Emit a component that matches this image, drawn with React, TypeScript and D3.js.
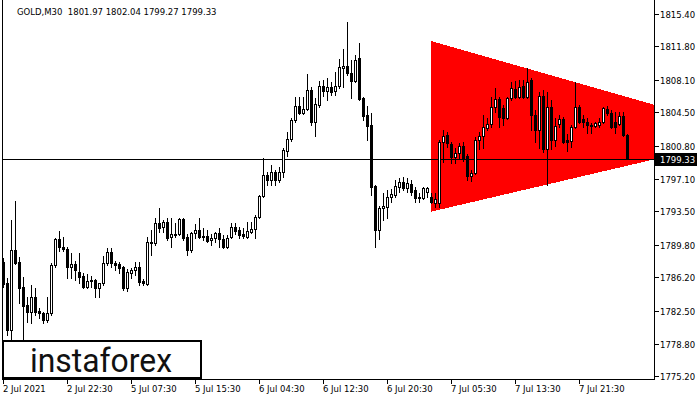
import React from 'react';
import * as d3 from 'd3';

const headerText = "GOLD,M30  1801.97 1802.04 1799.27 1799.33";
const logoText = "instaforex";

const open = [
  1787.90, 1785.57, 1780.36, 1789.23, 1787.90, 1785.12, 1783.13, 1782.35, 1784.02, 1782.46,
  1782.24, 1781.47, 1782.24, 1787.56, 1790.45, 1789.56, 1789.34, 1787.34, 1787.67, 1786.79,
  1786.34, 1785.12, 1785.79, 1785.90, 1785.01, 1785.57, 1787.78, 1789.01, 1787.78, 1787.67,
  1787.34, 1785.01, 1786.68, 1787.01, 1787.34, 1785.79, 1785.46, 1790.00, 1790.00, 1792.22,
  1791.78, 1792.33, 1790.67, 1790.89, 1791.00, 1792.66, 1790.67, 1789.23, 1791.11, 1791.45,
  1790.78, 1790.78, 1790.34, 1790.56, 1791.11, 1790.45, 1789.56, 1790.67, 1791.78, 1791.45,
  1791.00, 1790.67, 1791.22, 1791.56, 1792.89, 1795.22, 1797.55, 1796.99, 1797.88, 1796.99,
  1797.88, 1800.21, 1801.54, 1803.65, 1805.20, 1804.42, 1804.87, 1806.97, 1803.42, 1805.31,
  1807.42, 1806.86, 1807.30, 1806.86, 1807.42, 1809.41, 1809.63, 1808.86, 1807.97, 1810.52,
  1806.09, 1804.20, 1803.09, 1796.33, 1791.45, 1793.88, 1793.99, 1795.11, 1795.33, 1796.21,
  1796.77, 1796.10, 1796.55, 1795.88, 1795.11, 1795.00, 1795.66, 1795.11, 1794.44, 1794.44,
  1801.21, 1801.98, 1800.98, 1799.54, 1799.99, 1800.76, 1799.65, 1797.44, 1797.77, 1801.43,
  1801.87, 1802.76, 1803.20, 1805.09, 1805.98, 1804.98, 1803.87, 1806.09, 1807.08, 1806.20,
  1807.42, 1806.20, 1808.08, 1804.20, 1802.54, 1806.31, 1800.43, 1805.09, 1801.43, 1803.20,
  1803.76, 1801.43, 1801.32, 1802.87, 1805.09, 1803.76, 1803.42, 1803.09, 1802.98, 1803.09,
  1803.42, 1804.87, 1804.42, 1803.42, 1803.20, 1804.09, 1801.97
];
const high = [
  1788.34, 1786.12, 1792.55, 1794.66, 1788.45, 1786.23, 1784.02, 1785.35, 1785.01, 1782.80,
  1782.35, 1784.02, 1787.78, 1790.56, 1791.33, 1790.67, 1789.56, 1788.89, 1788.01, 1788.89,
  1786.68, 1786.56, 1786.34, 1786.01, 1785.57, 1788.56, 1789.45, 1789.45, 1788.01, 1787.90,
  1787.45, 1787.12, 1787.23, 1787.90, 1787.90, 1786.01, 1790.67, 1791.45, 1792.77, 1793.88,
  1792.55, 1792.77, 1792.77, 1792.22, 1792.77, 1792.77, 1791.00, 1791.22, 1792.11, 1792.77,
  1791.67, 1791.45, 1791.00, 1791.22, 1791.67, 1790.89, 1790.89, 1792.22, 1792.22, 1791.78,
  1791.67, 1792.33, 1792.33, 1793.11, 1795.33, 1799.43, 1797.88, 1798.65, 1798.10, 1798.43,
  1800.54, 1802.32, 1803.87, 1806.20, 1806.20, 1806.20, 1808.75, 1807.30, 1806.09, 1807.97,
  1808.08, 1808.30, 1807.86, 1808.97, 1810.41, 1811.52, 1814.51, 1810.30, 1810.85, 1812.18,
  1806.20, 1805.20, 1804.42, 1796.40, 1794.11, 1795.55, 1795.88, 1795.99, 1796.99, 1797.21,
  1797.32, 1797.21, 1796.99, 1796.21, 1795.55, 1796.21, 1796.21, 1795.55, 1795.55, 1801.43,
  1802.54, 1802.32, 1801.21, 1800.54, 1801.09, 1801.21, 1799.87, 1798.10, 1801.76, 1802.32,
  1804.20, 1803.87, 1806.20, 1807.19, 1806.20, 1805.31, 1806.20, 1807.86, 1807.97, 1808.08,
  1808.08, 1809.41, 1808.30, 1804.75, 1806.75, 1806.97, 1806.75, 1805.86, 1803.87, 1804.20,
  1803.98, 1802.09, 1803.09, 1807.86, 1805.31, 1804.20, 1803.87, 1803.31, 1803.42, 1803.87,
  1805.09, 1805.20, 1804.75, 1804.53, 1804.53, 1804.53, 1802.04
];
const low = [
  1785.12, 1779.80, 1779.25, 1787.67, 1783.35, 1779.25, 1781.24, 1781.13, 1782.02, 1781.69,
  1781.13, 1781.24, 1782.02, 1787.34, 1789.12, 1789.12, 1786.12, 1786.12, 1785.90, 1785.57,
  1785.01, 1785.01, 1785.12, 1784.02, 1784.02, 1785.35, 1787.56, 1787.34, 1787.01, 1786.68,
  1784.79, 1784.68, 1786.12, 1786.45, 1785.35, 1785.35, 1785.35, 1788.67, 1789.78, 1791.22,
  1791.22, 1790.34, 1789.56, 1790.67, 1790.89, 1790.34, 1788.67, 1789.01, 1790.56, 1790.56,
  1790.34, 1790.11, 1789.78, 1790.11, 1789.56, 1789.45, 1789.45, 1790.56, 1791.00, 1790.56,
  1790.56, 1790.56, 1791.11, 1790.56, 1792.77, 1795.11, 1796.44, 1796.44, 1796.44, 1796.77,
  1797.32, 1799.65, 1801.32, 1803.42, 1804.31, 1804.31, 1804.75, 1803.09, 1801.87, 1805.09,
  1806.31, 1805.86, 1806.42, 1806.42, 1807.19, 1807.30, 1808.63, 1806.09, 1807.86, 1805.86,
  1803.65, 1801.43, 1795.33, 1789.56, 1790.45, 1792.55, 1792.77, 1794.55, 1795.11, 1795.66,
  1795.88, 1795.66, 1795.33, 1794.55, 1794.55, 1794.89, 1795.11, 1794.44, 1793.99, 1793.99,
  1798.99, 1800.65, 1798.88, 1798.88, 1799.43, 1799.10, 1796.99, 1796.88, 1797.66, 1800.43,
  1800.54, 1802.54, 1802.87, 1804.53, 1802.87, 1803.09, 1803.76, 1805.86, 1806.09, 1806.09,
  1806.09, 1806.09, 1802.54, 1801.21, 1800.54, 1800.10, 1796.44, 1800.43, 1800.76, 1802.87,
  1801.09, 1800.21, 1800.65, 1802.76, 1803.31, 1802.87, 1802.20, 1802.20, 1802.87, 1802.87,
  1803.31, 1804.20, 1802.76, 1802.20, 1803.09, 1801.87, 1799.27
];
const close = [
  1785.46, 1780.36, 1789.23, 1787.78, 1785.01, 1783.02, 1782.35, 1784.02, 1782.35, 1782.24,
  1781.47, 1782.24, 1787.56, 1790.45, 1789.56, 1789.34, 1787.34, 1787.67, 1787.01, 1786.23,
  1785.12, 1785.79, 1785.90, 1785.01, 1785.57, 1787.78, 1789.01, 1787.78, 1787.56, 1787.23,
  1785.01, 1786.79, 1787.01, 1787.34, 1785.68, 1785.57, 1790.11, 1790.11, 1792.22, 1791.67,
  1792.33, 1790.56, 1791.00, 1791.00, 1792.66, 1790.56, 1789.23, 1791.11, 1791.45, 1790.67,
  1790.67, 1790.22, 1790.56, 1791.11, 1790.45, 1789.56, 1790.56, 1791.78, 1791.33, 1790.89,
  1790.78, 1791.33, 1791.56, 1792.89, 1795.22, 1797.55, 1796.99, 1797.88, 1796.99, 1797.88,
  1800.32, 1801.54, 1803.65, 1805.20, 1804.42, 1804.87, 1806.97, 1803.42, 1805.42, 1807.42,
  1806.86, 1807.30, 1806.75, 1807.42, 1809.52, 1809.63, 1808.86, 1807.97, 1810.30, 1805.98,
  1804.09, 1802.98, 1796.21, 1791.45, 1793.88, 1794.11, 1795.11, 1795.44, 1796.33, 1796.77,
  1796.10, 1796.66, 1795.66, 1795.00, 1795.00, 1796.10, 1796.10, 1794.55, 1794.89, 1801.21,
  1801.87, 1801.09, 1799.54, 1799.99, 1800.76, 1799.32, 1797.44, 1797.77, 1801.43, 1801.87,
  1802.87, 1803.20, 1805.09, 1805.98, 1803.98, 1803.87, 1806.09, 1807.19, 1806.20, 1807.30,
  1806.20, 1807.86, 1804.20, 1802.54, 1806.31, 1800.43, 1805.09, 1801.43, 1802.98, 1803.76,
  1801.21, 1801.21, 1802.87, 1805.09, 1803.42, 1803.42, 1803.09, 1802.98, 1803.31, 1803.42,
  1804.98, 1804.42, 1802.87, 1802.87, 1804.09, 1801.98, 1799.33
];

const priceTicks = [1815.40, 1811.80, 1808.10, 1804.50, 1800.80, 1797.10, 1793.50, 1789.80, 1786.20, 1782.50, 1778.80, 1775.20];
const timeLabels = ["2 Jul 2021", "2 Jul 22:30", "5 Jul 07:30", "5 Jul 15:30", "6 Jul 04:30", "6 Jul 12:30", "6 Jul 20:30", "7 Jul 05:30", "7 Jul 13:30", "7 Jul 21:30"];
const timeLabelBars = [0, 16, 32, 48, 64, 80, 96, 112, 128, 144];
// triangle object anchors: [bar index, price]
const triangleBars = [107, 107, 189];
const trianglePrices = [1812.41, 1793.47, 1802.0];

export default function App() {
  const W = 700, H = 400;
  const plotL = 2, plotR = 654, plotT = 0, plotB = 379;
  const n = close.length;
  const x = d3.scaleLinear().domain([0, n - 1]).range([3, 3 + 4 * (n - 1)]);
  const y = d3.scaleLinear().domain([1774.92, 1816.95]).range([plotB, plotT]);
  const font = "'DejaVu Sans', sans-serif";

  const triPath = d3.line<number>()
    .x((_, i) => x(triangleBars[i]))
    .y((d) => y(d))(trianglePrices) + "Z";

  const lastPrice = close[n - 1];
  const ly = Math.round(y(lastPrice));

  const candles = close.map((c, i) => {
    const o = open[i];
    const cx = Math.round(x(i));
    const yh = Math.round(y(high[i]));
    const yl = Math.round(y(low[i]));
    const top = Math.round(y(Math.max(o, c)));
    const bot = Math.round(y(Math.min(o, c)));
    const bull = c > o;
    return (
      <g key={i}>
        <rect x={cx} y={yh} width={1} height={Math.max(1, yl - yh + 1)} fill="#000" />
        <rect x={cx - 1} y={top} width={3} height={Math.max(1, bot - top + 1)} fill="#000" />
        {bull && bot - top > 1 && (
          <rect x={cx} y={top + 1} width={1} height={bot - top - 1} fill="#fff" />
        )}
      </g>
    );
  });

  return (
    <svg width={W} height={H} style={{ position: 'absolute', left: 0, top: 0, display: 'block', background: '#fff' }} shapeRendering="crispEdges">
      <defs>
        <clipPath id="plotClip">
          <rect x={plotL} y={plotT} width={plotR - plotL} height={plotB - plotT} />
        </clipPath>
      </defs>
      <rect x={0} y={0} width={W} height={H} fill="#fff" />
      <g clipPath="url(#plotClip)">
        <path d={triPath} fill="#ff0000" stroke="none" />
        <rect x={plotL} y={ly} width={plotR - plotL} height={1} fill="#000" />
        {candles}
      </g>
      {/* frame */}
      <rect x={plotL} y={plotT} width={1} height={plotB - plotT + 1} fill="#000" />
      <rect x={plotR} y={plotT} width={1} height={plotB - plotT + 1} fill="#000" />
      <rect x={plotL} y={plotB} width={plotR - plotL + 1} height={1} fill="#000" />
      {/* header */}
      <text x={17} y={15} fontFamily={font} fontSize={8.5} fill="#000" style={{ whiteSpace: 'pre' }}>{headerText}</text>
      {/* price axis */}
      {priceTicks.map((p) => {
        const ty = Math.round(y(p));
        return (
          <g key={p}>
            <rect x={plotR + 1} y={ty} width={4} height={1} fill="#000" />
            <text x={660} y={ty + 0.5} dominantBaseline="central" fontFamily={font} fontSize={8.5} fill="#000">{p.toFixed(2)}</text>
          </g>
        );
      })}
      <rect x={655} y={ly - 6} width={42} height={13} fill="#000" />
      <text x={660} y={ly + 0.5} dominantBaseline="central" fontFamily={font} fontSize={8.5} fill="#fff">{lastPrice.toFixed(2)}</text>
      {/* time axis */}
      {timeLabelBars.map((b, k) => {
        const tx = Math.round(x(b));
        return (
          <g key={b}>
            <rect x={tx} y={plotB + 1} width={1} height={4} fill="#000" />
            <text x={tx} y={392} fontFamily={font} fontSize={8.5} fill="#000">{timeLabels[k]}</text>
          </g>
        );
      })}
      {/* logo */}
      <rect x={3} y={341} width={198} height={37} fill="#fff" stroke="#000" strokeWidth={2} />
      <text x={30} y={372} fontFamily="Roboto, 'Open Sans', sans-serif" fontSize={34} fill="#111" textLength={142} lengthAdjust="spacingAndGlyphs" shapeRendering="auto">{logoText}</text>
    </svg>
  );
}
